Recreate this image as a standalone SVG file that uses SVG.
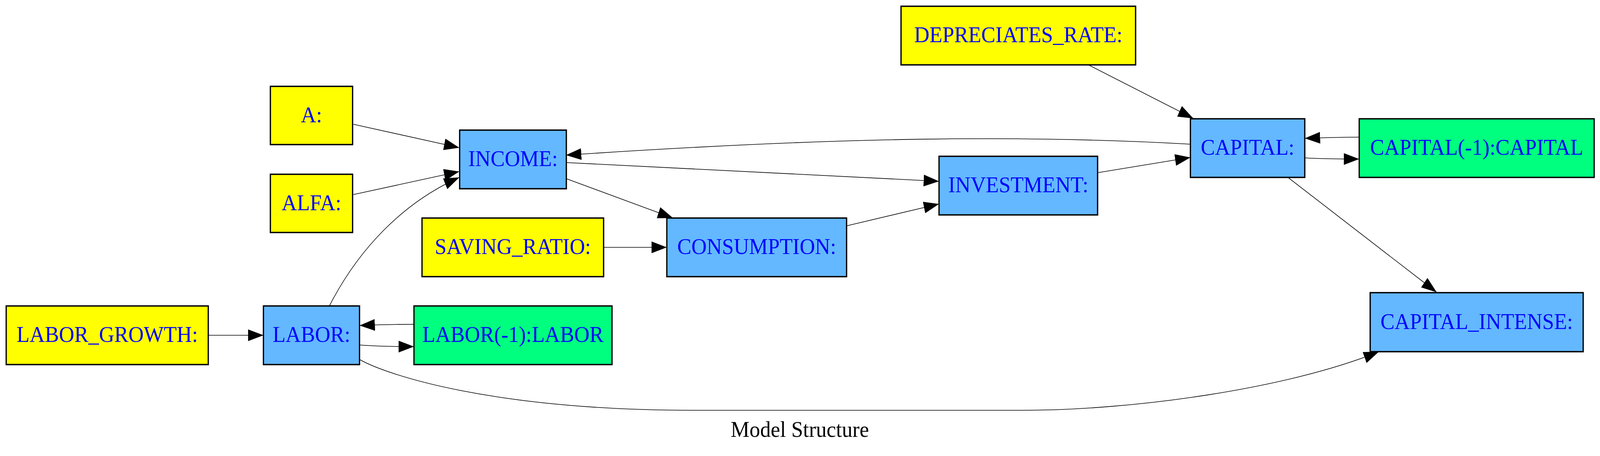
<svg xmlns="http://www.w3.org/2000/svg" width="4379" height="1167" viewBox="0 0 4379 1167" preserveAspectRatio="none" style="width:100vw;height:100vh;display:block">
<style>
.n rect{stroke:#000;stroke-width:3.5}
.y rect{fill:#ffff00}
.b rect{fill:#63b8ff}
.g rect{fill:#00ff7f}
.n text{font-family:"Liberation Serif","Times New Roman",serif;font-size:58px;fill:#0000ff;text-anchor:middle}
#edges path{fill:none;stroke:#000;stroke-width:1.6;marker-end:url(#ah)}
.title{font-family:"Liberation Serif","Times New Roman",serif;font-size:58px;fill:#000;text-anchor:middle}
</style>
<defs>
<marker id="ah" markerUnits="userSpaceOnUse" viewBox="0 0 42 30" refX="42" refY="15" markerWidth="42" markerHeight="30" orient="auto">
<path d="M0,0 L42,15 L0,30 Z" fill="#000"/>
</marker>
</defs>
<rect x="0" y="0" width="4379" height="1167" fill="#fff"/>
<g id="edges">
<path d="M967,318 L1257,378"/>
<path d="M967,498 L1257,439"/>
<path d="M902,782 C980,640 1100,520 1257,454"/>
<path d="M570,858 L721,858"/>
<path d="M1133,830 C1090,830 1040,831 984,833"/>
<path d="M984,883 C1030,886 1080,887 1133,887"/>
<path d="M984,920 C1060,960 1350,1050 1900,1050 L2800,1050 C3100,1050 3524,995 3774,900"/>
<path d="M3258,369 C2800,345 2300,350 1549,397"/>
<path d="M1549,416 L2570,464"/>
<path d="M1549,457 L1842,558"/>
<path d="M1652,633 L1825,633"/>
<path d="M2317,578 L2570,522"/>
<path d="M3004,442 L3258,403"/>
<path d="M2979,166 L3266,303"/>
<path d="M3720,351 C3680,351 3630,352 3571,354"/>
<path d="M3571,404 C3620,407 3670,407 3720,407"/>
<path d="M3525,454 L3932,748"/>
</g>
<g id="node-A" class="n y"><rect x="740" y="221" width="225" height="149"/><text x="852.5" y="313">A:</text></g>
<g id="node-ALFA" class="n y"><rect x="740" y="446" width="225" height="149"/><text x="852.5" y="538">ALFA:</text></g>
<g id="node-INCOME" class="n b"><rect x="1258" y="333" width="292" height="150"/><text x="1404" y="425">INCOME:</text></g>
<g id="node-SAVING_RATIO" class="n y"><rect x="1155" y="558" width="497" height="150"/><text x="1403.5" y="650">SAVING_RATIO:</text></g>
<g id="node-LABOR_GROWTH" class="n y"><rect x="17" y="783" width="553" height="150"/><text x="293.5" y="875">LABOR_GROWTH:</text></g>
<g id="node-LABOR" class="n b"><rect x="721" y="783" width="263" height="150"/><text x="852.5" y="875">LABOR:</text></g>
<g id="node-LABOR_LAG" class="n g"><rect x="1133" y="783" width="542" height="150"/><text x="1404" y="875">LABOR(-1):LABOR</text></g>
<g id="node-CONSUMPTION" class="n b"><rect x="1825" y="558" width="492" height="150"/><text x="2071" y="650">CONSUMPTION:</text></g>
<g id="node-INVESTMENT" class="n b"><rect x="2570" y="400" width="434" height="150"/><text x="2787" y="492">INVESTMENT:</text></g>
<g id="node-DEPRECIATES_RATE" class="n y"><rect x="2466" y="16" width="642" height="150"/><text x="2787" y="108">DEPRECIATES_RATE:</text></g>
<g id="node-CAPITAL" class="n b"><rect x="3258" y="304" width="313" height="150"/><text x="3414.5" y="396">CAPITAL:</text></g>
<g id="node-CAPITAL_LAG" class="n g"><rect x="3720" y="304" width="643" height="150"/><text x="4041.5" y="396">CAPITAL(-1):CAPITAL</text></g>
<g id="node-CAPITAL_INTENSE" class="n b"><rect x="3750" y="749" width="583" height="151"/><text x="4041.5" y="842">CAPITAL_INTENSE:</text></g>
<text class="title" x="2189" y="1118">Model Structure</text>
</svg>
